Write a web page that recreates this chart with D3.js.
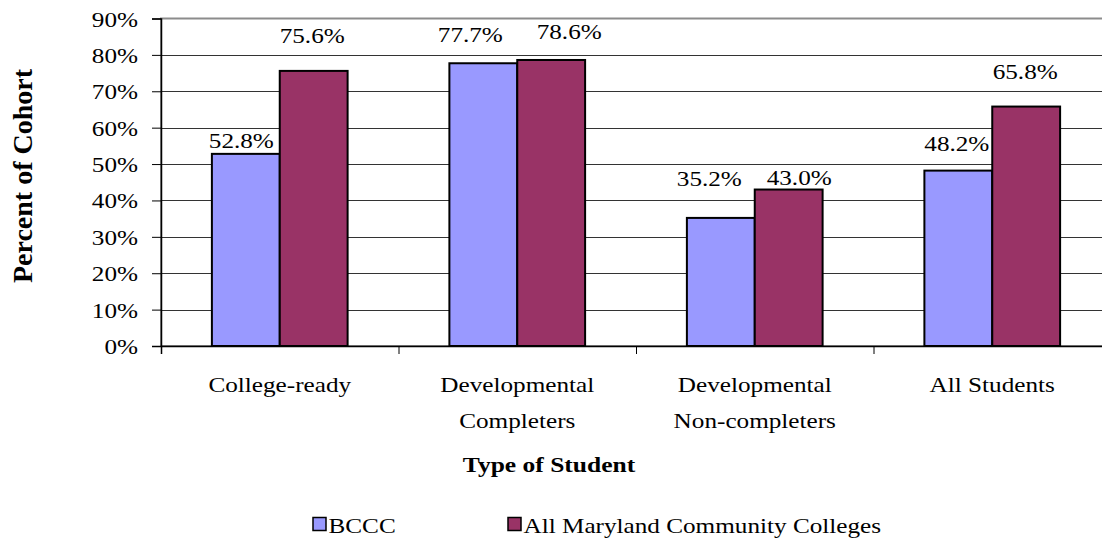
<!DOCTYPE html>
<html>
<head>
<meta charset="utf-8">
<script src="https://cdn.jsdelivr.net/npm/d3@7"></script>
<style>
  html, body { margin: 0; padding: 0; background: #fff; }
  svg { display: block; overflow: hidden; }
</style>
</head>
<body>
<svg id="chart" width="1102" height="541"></svg>
<script>
// data
const categories = ["College-ready", "Developmental\nCompleters", "Developmental\nNon-completers", "All Students"];
const seriesNames = ["BCCC", "All Maryland Community Colleges"];
const bcccValues = [52.8, 77.7, 35.2, 48.2];
const mdValues = [75.6, 78.6, 43.0, 65.8];
const yTicks = [0, 10, 20, 30, 40, 50, 60, 70, 80, 90];

// Excel labels were dragged by hand, so each one gets a nudge (px) off its bar
const labelNudgeX = [[-4.5, -1.5], [-13, 18], [-11.5, 10.5], [-1.5, -1]];
const labelNudgeY = [[5.5, 28], [21, 21], [32, 5], [20, 28]];

const ctx = {
  w: 1102, h: 541,
  left: 161, right: 1111, top: 18.5, bottom: 346,
  colors: ["#9999FF", "#993366"],
  font: "'Liberation Serif', Tinos, 'Times New Roman', 'DejaVu Serif', serif",
  fontSize: 21, stretch: 1.2
};

const svg = d3.select("#chart").style("font-family", ctx.font);

const x0 = d3.scaleBand().domain(categories).range([ctx.left, ctx.right]).padding(0);
const x1 = d3.scaleBand().domain(seriesNames).range([0, x0.bandwidth()]).paddingInner(0).paddingOuter(0.75);
const y = d3.scaleLinear().domain([0, 90]).range([ctx.bottom, ctx.top]);
const xTickScale = d3.scaleLinear().domain([0, categories.length]).range([ctx.left, ctx.right]);

// helper: text a bit wider than the font draws it, like the source picture
function putText(sel, x, yy, sx) {
  return sel.attr("transform", `translate(${x},${yy}) scale(${sx || ctx.stretch},1)`)
    .style("font-family", ctx.font).attr("fill", "#000");
}

// plot border (grey)
svg.append("rect")
  .attr("x", ctx.left).attr("y", ctx.top)
  .attr("width", ctx.right - ctx.left).attr("height", ctx.bottom - ctx.top)
  .attr("fill", "none").attr("stroke", "#8c8c8c").attr("stroke-width", 2);

// gridlines
svg.append("g").selectAll("line")
  .data(yTicks.filter(t => t > 0 && t < 90))
  .enter().append("line")
  .attr("x1", ctx.left).attr("x2", ctx.right)
  .attr("y1", d => Math.round(y(d)) + 0.5).attr("y2", d => Math.round(y(d)) + 0.5)
  .attr("stroke", "#333").attr("stroke-width", 1);

// bars
const rows = categories.map((c, i) => ({
  cat: c, idx: i,
  vals: [{ s: seriesNames[0], v: bcccValues[i], k: 0 }, { s: seriesNames[1], v: mdValues[i], k: 1 }]
}));

const groups = svg.append("g").selectAll("g")
  .data(rows).enter().append("g")
  .attr("transform", d => `translate(${x0(d.cat)},0)`);

groups.selectAll("rect")
  .data(d => d.vals).enter().append("rect")
  .attr("x", d => x1(d.s))
  .attr("y", d => y(d.v))
  .attr("width", x1.bandwidth())
  .attr("height", d => y(0) - y(d.v))
  .attr("fill", d => ctx.colors[d.k])
  .attr("stroke", "#000").attr("stroke-width", 2);

// value labels
groups.each(function(row) {
  d3.select(this).selectAll("text.val")
    .data(row.vals).enter().append("text")
    .classed("val", true)
    .attr("text-anchor", "middle")
    .style("font-size", ctx.fontSize + "px")
    .each(function(d) {
      putText(d3.select(this),
        x1(d.s) + x1.bandwidth() / 2 + labelNudgeX[row.idx][d.k],
        y(d.v) - labelNudgeY[row.idx][d.k]);
    })
    .text(d => d.v.toFixed(1) + "%");
});

// y axis
const yAxis = svg.append("g")
  .attr("transform", `translate(${ctx.left},0)`)
  .call(d3.axisLeft(y).tickValues(yTicks).tickSize(9).tickFormat(d => d + "%"));
yAxis.attr("font-family", null);
yAxis.select(".domain").attr("stroke", "#000").attr("stroke-width", 1.5);
yAxis.selectAll(".tick line").attr("stroke", "#000");
yAxis.selectAll(".tick text")
  .attr("x", null).attr("dy", null)
  .style("font-size", ctx.fontSize + "px")
  .attr("text-anchor", "end")
  .each(function() { putText(d3.select(this), -23, 7.5); });

// x axis (ticks on category boundaries)
const xAxis = svg.append("g")
  .attr("transform", `translate(0,${ctx.bottom})`)
  .call(d3.axisBottom(xTickScale).ticks(categories.length).tickSize(8).tickFormat(""));
xAxis.select(".domain").attr("stroke", "#000").attr("stroke-width", 1.5);
xAxis.selectAll(".tick line").attr("stroke", "#000");

// category labels
categories.forEach(c => {
  const lines = c.split("\n");
  lines.forEach((ln, j) => {
    putText(svg.append("text"), x0(c) + x0.bandwidth() / 2, 392 + j * 36)
      .attr("text-anchor", "middle")
      .style("font-size", ctx.fontSize + "px")
      .text(ln);
  });
});

// axis titles
putText(svg.append("text"), ctx.w / 2 - 2, 472, 1.16)
  .attr("text-anchor", "middle")
  .style("font-size", "22px").style("font-weight", "bold")
  .text("Type of Student");

svg.append("text")
  .attr("transform", "translate(32,176) rotate(-90)")
  .attr("text-anchor", "middle")
  .style("font-family", ctx.font)
  .style("font-size", "28px").style("font-weight", "bold")
  .text("Percent of Cohort");

// legend
const legendX = [313, 508];
const legend = svg.append("g");
seriesNames.forEach((s, i) => {
  legend.append("rect")
    .attr("x", legendX[i]).attr("y", 517.5)
    .attr("width", 13).attr("height", 13)
    .attr("fill", ctx.colors[i]).attr("stroke", "#000").attr("stroke-width", 1.5);
  putText(legend.append("text"), legendX[i] + 15.5, 533)
    .style("font-size", ctx.fontSize + "px")
    .text(s);
});
</script>
</body>
</html>
